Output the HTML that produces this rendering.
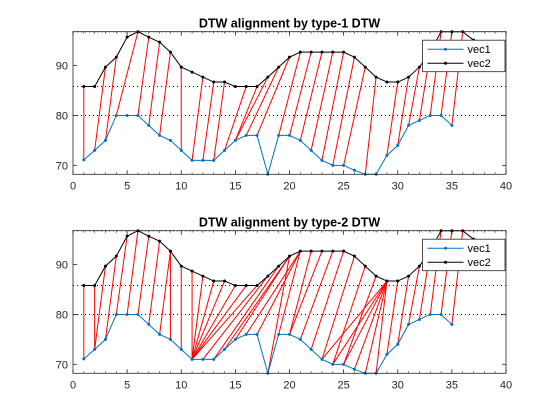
<!DOCTYPE html>
<html><head><meta charset="utf-8"><style>
body{margin:0;background:#fff;}
svg{display:block;font-family:"Liberation Sans",sans-serif;}
</style></head><body>
<svg id="chart" width="560" height="420" viewBox="0 0 560 420"></svg>
<script>
const vec1 = [71.1,73,75,80,80,80,78,76,75,73,71,71,71,73,75,76,76,68.2,76,76,75,73,71,70,70,69,68.2,68.2,72,74,78,79,80,80,78];
const vec2 = [85.8,85.8,89.7,91.7,95.7,96.8,95.7,94.7,92.7,89.7,88.7,87.7,86.7,86.7,85.8,85.8,85.8,87.7,89.7,91.7,92.7,92.7,92.7,92.7,92.7,91.7,89.7,87.7,86.7,86.7,87.7,89.7,92.7,96.8,96.8,96.8,95.1];
const pathType1 = [[1,1],[2,3],[3,4],[4,6],[6,7],[7,8],[8,9],[10,10],[11,12],[12,13],[13,14],[14,16],[15,17],[15,18],[16,19],[17,20],[19,21],[20,22],[21,23],[22,24],[23,25],[24,26],[25,27],[27,28],[29,30],[30,31],[31,32],[32,33],[33,34],[34,35],[35,36]];
const pathType2 = [[1,1],[2,2],[2,3],[3,4],[4,5],[5,6],[6,7],[7,8],[8,9],[9,9],[10,10],[11,11],[11,12],[11,13],[11,14],[11,15],[11,16],[11,17],[12,18],[13,19],[14,20],[15,20],[16,21],[17,21],[18,20],[19,21],[20,22],[20,23],[21,24],[22,25],[23,26],[24,27],[25,28],[23,29],[24,29],[25,29],[26,29],[27,29],[28,29],[29,30],[30,31],[31,32],[32,33],[33,34],[34,35],[35,36]];
const xTicks = [0,5,10,15,20,25,30,35,40];
const yTicks = [70,80,90];
const refLines = [80,85.8];
const titles = ["DTW alignment by type-1 DTW","DTW alignment by type-2 DTW"];

const NS="http://www.w3.org/2000/svg";
const svg=document.getElementById('chart');
function mk(tag,attrs,parent){const e=document.createElementNS(NS,tag);for(const k in attrs)e.setAttribute(k,attrs[k]);(parent||svg).appendChild(e);return e;}

function drawPanel(top,path,idx){
  const L=73,R=506,T=top,B=top+142.6,xmin=0,xmax=40,ymin=68.2,ymax=96.8;
  const sx=v=>L+(v-xmin)/(xmax-xmin)*(R-L);
  const sy=v=>B-(v-ymin)/(ymax-ymin)*(B-T);
  const g=mk('g',{});
  
  
  mk('rect',{x:L,y:T,width:R-L,height:B-T,fill:'#fff'},g);
  refLines.concat([ymax]).forEach(v=>{
    const l=mk('line',{x1:L,x2:R,y1:sy(v),y2:sy(v),stroke:'#000','stroke-width':1,'stroke-dasharray':'1,3'},g);
    
    
  });
  path.forEach(p=>{
    const l=mk('line',{x1:sx(p[0]),y1:sy(vec1[p[0]-1]),x2:sx(p[1]),y2:sy(vec2[p[1]-1]),stroke:'#ff0000','stroke-width':1},g);
    
    
  });
  [[vec1,'#0072bd','vec1-line'],[vec2,'#000','vec2-line']].forEach(([d,c,n])=>{
    const pl=mk('polyline',{points:d.map((v,i)=>sx(i+1)+','+sy(v)).join(' '),fill:'none',stroke:c,'stroke-width':1},g);
    
    
    d.forEach((v,i)=>{
      const m=mk('circle',{cx:sx(i+1),cy:sy(v),r:1.5,fill:c},g);
      
      
    });
  });
  mk('rect',{x:L,y:T,width:R-L,height:B-T,fill:'none',stroke:'#262626','stroke-width':0.8},g);
  for(let v=xmin;v<=xmax;v++){
    mk('line',{x1:sx(v),x2:sx(v),y1:B,y2:B-2,stroke:'#262626','stroke-width':0.6},g);
    mk('line',{x1:sx(v),x2:sx(v),y1:T,y2:T+2,stroke:'#262626','stroke-width':0.6},g);
  }
  xTicks.forEach(v=>{
    mk('line',{x1:sx(v),x2:sx(v),y1:B,y2:B-4,stroke:'#262626','stroke-width':0.8},g);
    mk('line',{x1:sx(v),x2:sx(v),y1:T,y2:T+4,stroke:'#262626','stroke-width':0.8},g);
    const t=mk('text',{x:sx(v),y:B+15,'text-anchor':'middle','font-size':11,fill:'#262626'},g);
    t.textContent=v;
    
    
  });
  yTicks.forEach(v=>{
    mk('line',{x1:L,x2:L+4,y1:sy(v),y2:sy(v),stroke:'#262626','stroke-width':0.8},g);
    mk('line',{x1:R,x2:R-4,y1:sy(v),y2:sy(v),stroke:'#262626','stroke-width':0.8},g);
    const t=mk('text',{x:L-5,y:sy(v)+4,'text-anchor':'end','font-size':11,fill:'#262626'},g);
    t.textContent=v;
    
    
  });
  const tt=mk('text',{x:(L+R)/2,y:T-4,'text-anchor':'middle','font-size':12.5,'font-weight':'bold',fill:'#000'},g);
  tt.textContent=titles[idx];
  
  
  const lg=mk('g',{},g);
  
  
  const lx=422.5,ly=T+8.5;
  mk('rect',{x:lx,y:ly,width:82.5,height:31.5,fill:'#fff',stroke:'#262626','stroke-width':0.8},lg);
  [['vec1','#0072bd'],['vec2','#000']].forEach(([n,c],k)=>{
    const yy=ly+9+k*14;
    mk('line',{x1:lx+5,x2:lx+41,y1:yy,y2:yy,stroke:c,'stroke-width':1},lg);
    mk('circle',{cx:lx+23,cy:yy,r:1.5,fill:c},lg);
    const t=mk('text',{x:lx+45,y:yy+4,'font-size':11,fill:'#000'},lg);
    t.textContent=n;
    
    
  });
}
drawPanel(31.7,pathType1,0);
drawPanel(230.7,pathType2,1);
</script>
</body></html>
